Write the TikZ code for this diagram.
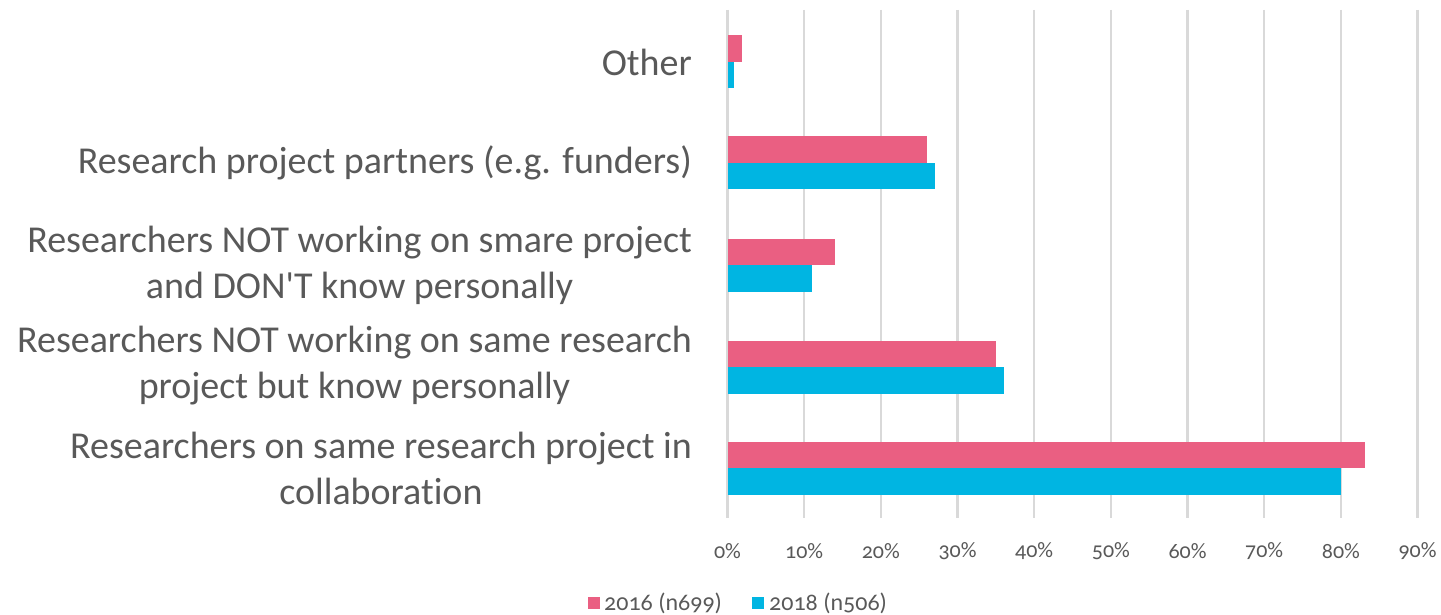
\documentclass[tikz,border=0pt]{standalone}
\usepackage{fontspec}
\setmainfont{Carlito}[Numbers=OldStyle,Ligatures={NoCommon}]
\definecolor{pinkbar}{HTML}{EA5F82}
\definecolor{bluebar}{HTML}{00B5E2}
\definecolor{gridc}{HTML}{D9D9D9}
\definecolor{txt}{HTML}{595959}
\tikzset{
  catlabel/.style={anchor=east, align=center, text=txt, font=\fontsize{38}{46}\selectfont, inner sep=0pt},
  ticklabel/.style={anchor=center, text=txt, font=\fontsize{22}{24}\selectfont, inner sep=0pt},
  legendlabel/.style={anchor=west, text=txt, font=\fontsize{24}{26}\selectfont, inner sep=0pt},
  gridline/.style={draw=gridc, line width=2.5pt},
  barA/.style={fill=pinkbar},
  barB/.style={fill=bluebar}
}
\newcommand\xv[1]{727.5+#1*7.667}
\newcommand\pairbars[3]{%
  \fill[barA] (727.5,#1-26.5) rectangle ({\xv{#2}},#1);
  \fill[barB] (727.5,#1) rectangle ({\xv{#3}},#1+26.5);}
\begin{document}
\begin{tikzpicture}[x=1pt,y=-1pt]
\useasboundingbox[fill=white] (0,0) rectangle (1441,615);
\foreach \i/\l in {0/0,1/10,2/20,3/30,4/40,5/50,6/60,7/70,8/80,9/90}{
  \draw[gridline] ({727.5+\i*76.67},10) -- ({727.5+\i*76.67},518);
  \node[ticklabel] (tick\i) at ({727.5+\i*76.67},551) {\l\%};
}
\pairbars{62}{1.9}{0.85}
\pairbars{163}{26}{27}
\pairbars{265}{14}{11}
\pairbars{367}{35}{36}
\pairbars{468}{83.1}{80}
\node[catlabel] (c1) at (692,62) {Other};
\node[catlabel] (c2) at (692,163) {Research project partners (e.g. funders)};
\node[catlabel] (c3) at (692,265) {Researchers NOT working on smare project\\and DON\textquotesingle T know personally};
\node[catlabel] (c4) at (692,366) {Researchers NOT working on same research\\project but know personally};
\node[catlabel] (c5) at (692,468) {Researchers on same research project in\\collaboration};
\fill[barA] (588,597) rectangle (600,609);
\node[legendlabel] (leg1) at (604,603) {2016 (n699)};
\fill[barB] (752,597) rectangle (764,609);
\node[legendlabel] (leg2) at (769,603) {2018 (n506)};
\end{tikzpicture}
\end{document}
